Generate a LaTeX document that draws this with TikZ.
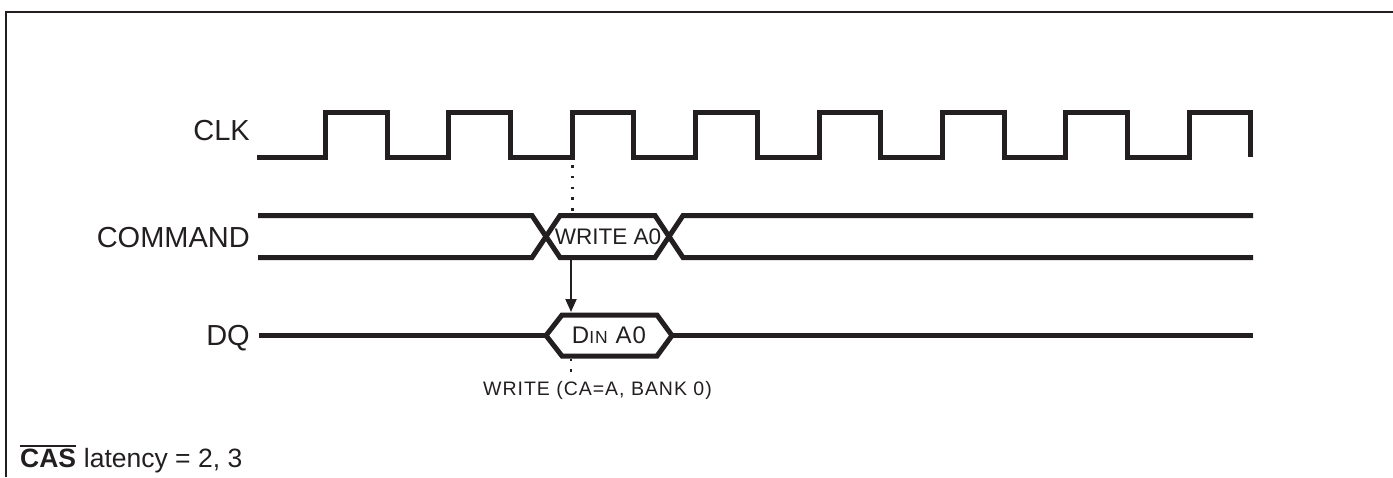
\documentclass[tikz,border=0pt]{standalone}
\usepackage{fontspec}
\setmainfont{Liberation Sans}
\newfontfamily\spacedA[LetterSpace=5]{Liberation Sans}
\newfontfamily\spacedB[LetterSpace=5]{Liberation Sans}
\usetikzlibrary{arrows.meta}
\definecolor{ink}{HTML}{231F20}
\begin{document}
\begin{tikzpicture}[x=1pt,y=-1pt,
  sig/.style={line width=5pt, draw=ink, line join=miter},
  lbl/.style={anchor=base east, inner sep=0pt, text=ink, font=\fontsize{29}{31}\selectfont},
  dotline/.style={draw=ink, line width=2.5pt, dash pattern=on 2.5pt off 8.3pt},
  hextext/.style={inner sep=0pt, text=ink},
  frame/.style={draw=ink, line width=2pt}]
\useasboundingbox (0,0) rectangle (1393,477);
% frame
\draw[frame] (6,477) -- (6,12) -- (1393,12);
% labels
\node[lbl] (clk) at (250,140) {CLK};
\node[lbl] (cmd) at (250,247) {COMMAND};
\node[lbl] (dq) at (250,345) {DQ};
% clock
\draw[sig] (257,157)
  \foreach \k in {0,...,7} {
    -- ({325.5+123.4*\k},157) -- ({325.5+123.4*\k},112)
    -- ({387+123.4*\k},112) -- ({387+123.4*\k},157)
  };
\coordinate (rise3) at (572.3,157);
% command bus
\coordinate (cmdTL) at (258,215.5);
\coordinate (cmdBL) at (258,257.5);
\draw[sig] (cmdTL) -- (532,215.5) -- (560,257.5) -- (655,257.5) -- (683,215.5) -- (1253,215.5);
\draw[sig] (cmdBL) -- (532,257.5) -- (560,215.5) -- (655,215.5) -- (683,257.5) -- (1253,257.5);
\node[hextext, font=\fontsize{22.5}{24}\selectfont] (wr) at (608,236.5) {WRITE A0};
% DQ bus
\coordinate (dqL) at (546,335.5);
\coordinate (dqR) at (672,335.5);
\draw[sig] (259,335.5) -- (dqL);
\draw[sig] (dqR) -- (1253,335.5);
\draw[sig] (dqL) -- (562,315) -- (657,315) -- (dqR) -- (657,356) -- (562,356) -- cycle;
\node[hextext] (din) at (609,335.5) {\fontsize{24}{26}\spacedB D\fontsize{17.5}{19}\selectfont IN\fontsize{24}{26}\selectfont{} A0};
% markers
\coordinate (cmdTop) at (572.3,213);
\draw[dotline] ([yshift=-8pt]rise3) -- (cmdTop);
\coordinate (arrS) at (571,259);
\coordinate (arrE) at (571,312);
\draw[draw=ink, line width=2pt, -{Triangle[length=13pt,width=11pt]}] (arrS) -- (arrE);
\coordinate (dqBot) at (571,358.5);
\coordinate (lblTop) at (571,373);
\draw[dotline] (dqBot) -- (lblTop);
\node[hextext, anchor=base, font=\fontsize{19.5}{21}\spacedA] (wrlbl) at (597.5,395) {WRITE (CA=A, BANK 0)};
% CAS latency
\node[anchor=base west, inner sep=0pt, text=ink, font=\fontsize{26.5}{28}\selectfont\bfseries] (cas) at (20,467) {CAS};
\node[anchor=base west, inner sep=0pt, text=ink, font=\fontsize{26.5}{28}\selectfont] (lat) at ([xshift=7.4pt]cas.base east) {latency = 2, 3};
\draw[draw=ink, line width=2pt] ([yshift=2.5pt]cas.north west) -- ([yshift=2.5pt]cas.north east);
\end{tikzpicture}
\end{document}
